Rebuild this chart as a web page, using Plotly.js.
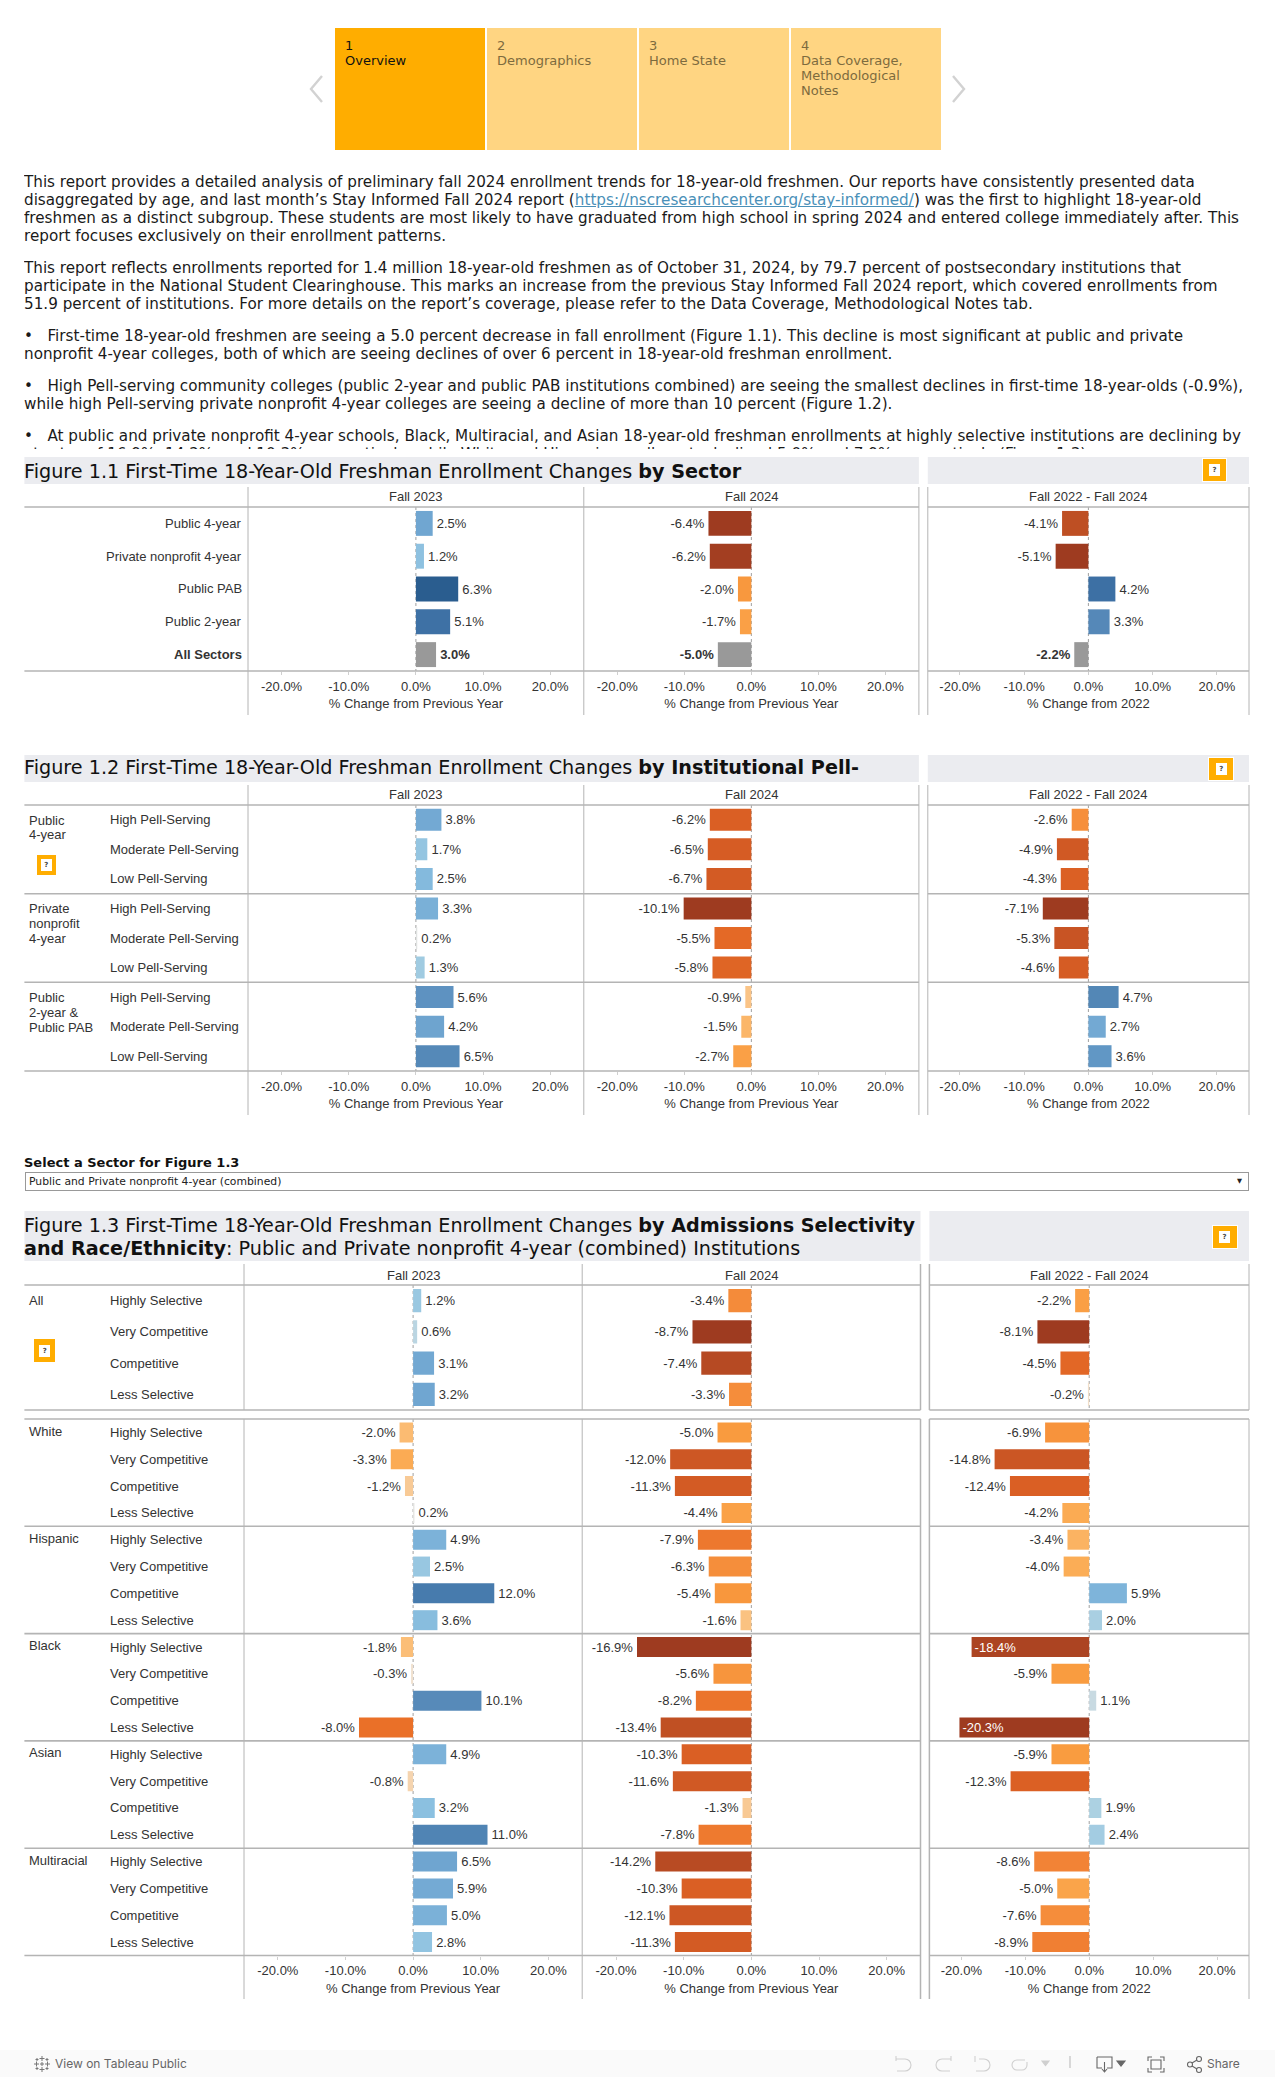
<!DOCTYPE html>
<html><head><meta charset="utf-8">
<script src="https://cdn.plot.ly/plotly-3.0.1.min.js"></script>
<style>
html,body{margin:0;padding:0;background:#fff;width:1275px;height:2077px;overflow:hidden}
#chart{position:absolute;left:0;top:0;width:1275px;height:2077px}
.abs{position:absolute}
.tile{position:absolute;top:28px;height:122px;width:150px;background:#ffd582;color:#7d6b3e;font:13px/15px "DejaVu Sans";padding:10px 0 0 10px;box-sizing:border-box}
.tile.on{background:#ffad00;color:#111}
#intro{position:absolute;left:24px;top:173px;width:1240px;height:276px;overflow:hidden;font:15.2px/18px "DejaVu Sans";color:#1a1a1a;white-space:nowrap}
#intro p{margin:0 0 14px 0}
#intro a{color:#4a90b8}
.help{position:absolute;background:#ffad00;border:1px solid #fff;box-sizing:border-box}
.help span{position:absolute;left:50%;top:50%;width:11px;height:12px;margin:-6px 0 0 -5.5px;background:#fff;color:#444;font:bold 7px/12px "DejaVu Sans";text-align:center}
#footer{position:absolute;left:0;top:2050px;width:1275px;height:27px;background:#fafafa;color:#666;font:12px/27px "Inter","Liberation Sans"}
</style></head><body>
<div id="chart"></div>
<div id="chrome"></div>
<script>
// ---------- data ----------
const columnHeads = ['Fall 2023','Fall 2024','Fall 2022 - Fall 2024'];
const axisTitles = ['% Change from Previous Year','% Change from Previous Year','% Change from 2022'];
const tickValues = [-20,-10,0,10,20];
const tickLabels = ['-20.0%','-10.0%','0.0%','10.0%','20.0%'];

const sectorLabels = ['Public 4-year','Private nonprofit 4-year','Public PAB','Public 2-year','All Sectors'];
const sectorFall2023 = [2.5,1.2,6.3,5.1,3.0];
const sectorFall2024 = [-6.4,-6.2,-2.0,-1.7,-5.0];
const sectorChange2022 = [-4.1,-5.1,4.2,3.3,-2.2];

const pellGroups = [['Public','4-year'],['Private','nonprofit','4-year'],['Public','2-year &','Public PAB']];
const pellLevels = ['High Pell-Serving','Moderate Pell-Serving','Low Pell-Serving'];
const pellFall2023 = [3.8,1.7,2.5, 3.3,0.2,1.3, 5.6,4.2,6.5];
const pellFall2024 = [-6.2,-6.5,-6.7, -10.1,-5.5,-5.8, -0.9,-1.5,-2.7];
const pellChange2022 = [-2.6,-4.9,-4.3, -7.1,-5.3,-4.6, 4.7,2.7,3.6];

const selectivity = ['Highly Selective','Very Competitive','Competitive','Less Selective'];
const allFall2023 = [1.2,0.6,3.1,3.2];
const allFall2024 = [-3.4,-8.7,-7.4,-3.3];
const allChange2022 = [-2.2,-8.1,-4.5,-0.2];
const raceGroups = ['White','Hispanic','Black','Asian','Multiracial'];
const raceFall2023 = [-2.0,-3.3,-1.2,0.2, 4.9,2.5,12.0,3.6, -1.8,-0.3,10.1,-8.0, 4.9,-0.8,3.2,11.0, 6.5,5.9,5.0,2.8];
const raceFall2024 = [-5.0,-12.0,-11.3,-4.4, -7.9,-6.3,-5.4,-1.6, -16.9,-5.6,-8.2,-13.4, -10.3,-11.6,-1.3,-7.8, -14.2,-10.3,-12.1,-11.3];
const raceChange2022 = [-6.9,-14.8,-12.4,-4.2, -3.4,-4.0,5.9,2.0, -18.4,-5.9,1.1,-20.3, -5.9,-12.3,1.9,2.4, -8.6,-5.0,-7.6,-8.9];

// ---------- helpers ----------
const W=1275,H=2077, FONT='"Liberation Sans"', FS=13, INK='#333';
const px=x=>x/W, py=y=>1-y/H;
const RULE='#b4b4b4';
const stops=[[-1,'#9e3b20'],[-.9,'#ad4522'],[-.73,'#cb5624'],[-.61,'#da5f24'],[-.5,'#ea7028'],[-.4,'#f4893a'],[-.3,'#f99a3e'],[-.2,'#fbac55'],[-.1,'#fbc07c'],[0,'#eee8e2'],
 [.1,'#a8cfe2'],[.2,'#8bc0e0'],[.3,'#7db3d9'],[.4,'#70a6d1'],[.5,'#6298c6'],[.6,'#5a8dbc'],[.7,'#4f83b3'],[.8,'#3f72a6'],[.9,'#35689c'],[1,'#2a5d8f']];
const colorscale=stops.map(s=>[(s[0]+1)/2,s[1]]);
const HAIR='\u200a';
const fmt=v=>{const s=v.toFixed(1)+'%'; if(v<-18) return s; return v<0?s+HAIR:HAIR+s;};

const traces=[], annotations=[], shapes=[], layout={};
let axisCount=0;

function panel(cfg){
  axisCount++;
  const k=axisCount===1?'':String(axisCount), xk='x'+k, yk='y'+k;
  const n=cfg.values.length, idx=cfg.values.map((_,i)=>i);
  layout['xaxis'+k]={domain:[px(cfg.x0),px(cfg.x1)],range:[-25,25],anchor:yk,fixedrange:true,zeroline:false,showgrid:false,showline:false,
    tickmode:'array',tickvals:cfg.axis?tickValues:[],ticktext:cfg.axis?tickLabels:[],ticks:cfg.axis?'outside':'',ticklen:3,tickcolor:'#cfcfcf',tickwidth:1,
    tickfont:{family:FONT,size:FS,color:INK},
    title:cfg.axis?{text:cfg.axis,standoff:6,font:{family:FONT,size:FS,color:INK}}:undefined};
  layout['yaxis'+k]={domain:[py(cfg.y1),py(cfg.y0)],range:[n-.5,-.5],anchor:xk,visible:false,fixedrange:true};
  shapes.push({type:'line',layer:'below',xref:xk,yref:'paper',x0:0,x1:0,y0:py(cfg.y0),y1:py(cfg.y1),line:{color:'#a0a0a0',width:1,dash:'dot'}});
  const gray=cfg.gray||[];
  const colored=idx.filter(i=>!gray.includes(i));
  const common=(list)=>({type:'bar',orientation:'h',xaxis:xk,yaxis:yk,width:cfg.bw,cliponaxis:false,constraintext:'none',textangle:0,
    x:list.map(i=>cfg.values[i]),y:list,text:list.map(i=>fmt(cfg.values[i])),hoverinfo:'skip',
    textposition:list.map(i=>cfg.values[i]<-18?'inside':'outside'),insidetextanchor:'end',
    textfont:{family:FONT,size:FS,color:list.map(i=>cfg.values[i]<-18?'#fff':INK)}});
  traces.push(Object.assign(common(colored),{marker:{color:colored.map(i=>cfg.values[i]),colorscale,cmin:-cfg.M,cmax:cfg.M,showscale:false,line:{width:0}}}));
  if(gray.length){
    const t=common(gray); t.marker={color:'#999999',line:{width:0}}; t.textfont.weight='bold';
    traces.push(t);
  }
}
function vline(x,y0,y1,w){shapes.push({type:'line',xref:'paper',yref:'paper',x0:px(x),x1:px(x),y0:py(y0),y1:py(y1),line:{color:RULE,width:w||1}});}
function hline(x0,x1,y,w){shapes.push({type:'line',xref:'paper',yref:'paper',x0:px(x0),x1:px(x1),y0:py(y),y1:py(y),line:{color:RULE,width:w||1.6}});}
function band(x0,x1,y0,y1){shapes.push({type:'rect',layer:'below',xref:'paper',yref:'paper',x0:px(x0),x1:px(x1),y0:py(y0),y1:py(y1),fillcolor:'#ebecf0',line:{width:0}});}
function label(text,x,y,anchor,opt){annotations.push(Object.assign({text,xref:'paper',yref:'paper',x:px(x),y:py(y),xanchor:anchor||'left',yanchor:'middle',showarrow:false,
  align:anchor==='right'?'right':'left',font:{family:FONT,size:FS,color:INK},borderpad:0,borderwidth:0},opt||{}));}
function title(text,y){label(text,24,y+.7,'left',{font:{family:'"DejaVu Sans"',size:19.2,color:'#111'}});}

const LEFT=24.4, GROUPX=29, ROWX=110;
// Figure 1.1
{
  band(LEFT,918.9,457,484); band(927.8,1249,457,484);
  title('Figure 1.1 First-Time 18-Year-Old Freshman Enrollment Changes <b>by Sector</b>',471);
  const cols=[[248,583.8],[583.8,918.9],[927.8,1249]], vals=[sectorFall2023,sectorFall2024,sectorChange2022], Ms=[6.3,6.4,5.1];
  cols.forEach((c,i)=>{panel({x0:c[0],x1:c[1],y0:507,y1:671,values:vals[i],M:Ms[i],bw:.76,axis:axisTitles[i],gray:[4]});
    label(columnHeads[i],(c[0]+c[1])/2,497,'center');});
  [248,583.8,918.9,927.8,1249].forEach(x=>vline(x,487,715));
  hline(LEFT,918.9,507);hline(927.8,1249,507);hline(LEFT,918.9,671);hline(927.8,1249,671);
  sectorLabels.forEach((s,i)=>label(i===4?'<b>'+s+'</b>':s,242,507+(i+.5)*164/5,'right'));
}
// Figure 1.2
{
  band(LEFT,918.9,755,782); band(927.8,1249,755,782);
  title('Figure 1.2 First-Time 18-Year-Old Freshman Enrollment Changes <b>by Institutional Pell-</b>',767);
  const cols=[[248,583.8],[583.8,918.9],[927.8,1249]], vals=[pellFall2023,pellFall2024,pellChange2022], Ms=[10.1,10.1,7.1];
  cols.forEach((c,i)=>{panel({x0:c[0],x1:c[1],y0:805,y1:1071,values:vals[i],M:Ms[i],bw:.745,axis:axisTitles[i]});
    label(columnHeads[i],(c[0]+c[1])/2,795,'center');});
  [248,583.8,918.9,927.8,1249].forEach(x=>vline(x,785,1115));
  [805,893.7,982.3,1071].forEach(y=>{hline(LEFT,918.9,y);hline(927.8,1249,y);});
  pellGroups.forEach((g,gi)=>{
    g.forEach((line,li)=>label(line,GROUPX,805+gi*88.67+15+li*15));
    pellLevels.forEach((l,j)=>label(l,ROWX,805+(gi*3+j+.5)*266/9));
  });
}
// Figure 1.3
{
  band(LEFT,920.5,1211,1261); band(929.4,1249,1211,1261);
  title('Figure 1.3 First-Time 18-Year-Old Freshman Enrollment Changes <b>by Admissions Selectivity</b>',1225);
  title('<b>and Race/Ethnicity</b>: Public and Private nonprofit 4-year (combined) Institutions',1248);
  const cols=[[244,582.2],[582.2,920.5],[929.4,1249]];
  const allVals=[allFall2023,allFall2024,allChange2022], raceVals=[raceFall2023,raceFall2024,raceChange2022];
  const allM=[8,8.7,8.1], raceM=[16,16.9,20.3];
  cols.forEach((c,i)=>{
    panel({x0:c[0],x1:c[1],y0:1285,y1:1410,values:allVals[i],M:allM[i],bw:.74});
    panel({x0:c[0],x1:c[1],y0:1419,y1:1955.5,values:raceVals[i],M:raceM[i],bw:.745,axis:axisTitles[i]});
    label(columnHeads[i],(c[0]+c[1])/2,1275,'center');
  });
  [244,582.2,1249].forEach(x=>{vline(x,1264,1410);vline(x,1419,1999);});
  [920.5,929.4].forEach(x=>{vline(x,1264,1410,1.5);vline(x,1419,1999,1.5);});
  [1285,1410,1419,1955.5].forEach(y=>{hline(LEFT,920.5,y);hline(929.4,1249,y);});
  raceGroups.forEach((g,gi)=>{
    const top=1419+gi*107.3;
    if(gi){hline(LEFT,920.5,top);hline(929.4,1249,top);}
    label(g,GROUPX,top+12);
    selectivity.forEach((s,j)=>label(s,ROWX,top+(j+.5)*107.3/4));
  });
  label('All',GROUPX,1300);
  selectivity.forEach((s,j)=>label(s,ROWX,1285+(j+.5)*125/4));
}

Object.assign(layout,{width:W,height:H,margin:{l:0,r:0,t:0,b:0},showlegend:false,barmode:'overlay',paper_bgcolor:'rgba(0,0,0,0)',plot_bgcolor:'rgba(0,0,0,0)',
  annotations,shapes,font:{family:FONT,size:FS,color:INK},hovermode:false});
Plotly.newPlot('chart',traces,layout,{displayModeBar:false,staticPlot:true});

// ---------- page chrome ----------
const navItems=['1<br>Overview','2<br>Demographics','3<br>Home State','4<br>Data Coverage,<br>Methodological<br>Notes'];
const navLefts=[335,487,639,791];
const intro=[
 ['This report provides a detailed analysis of preliminary fall 2024 enrollment trends for 18-year-old freshmen. Our reports have consistently presented data',
  'disaggregated by age, and last month\u2019s Stay Informed Fall 2024 report (<a href="#">https://nscresearchcenter.org/stay-informed/</a>) was the first to highlight 18-year-old',
  'freshmen as a distinct subgroup. These students are most likely to have graduated from high school in spring 2024 and entered college immediately after. This',
  'report focuses exclusively on their enrollment patterns.'],
 ['This report reflects enrollments reported for 1.4 million 18-year-old freshmen as of October 31, 2024, by 79.7 percent of postsecondary institutions that',
  'participate in the National Student Clearinghouse. This marks an increase from the previous Stay Informed Fall 2024 report, which covered enrollments from',
  '51.9 percent of institutions. For more details on the report\u2019s coverage, please refer to the Data Coverage, Methodological Notes tab.'],
 ['\u2022&nbsp;&nbsp; First-time 18-year-old freshmen are seeing a 5.0 percent decrease in fall enrollment (Figure 1.1). This decline is most significant at public and private',
  'nonprofit 4-year colleges, both of which are seeing declines of over 6 percent in 18-year-old freshman enrollment.'],
 ['\u2022&nbsp;&nbsp; High Pell-serving community colleges (public 2-year and public PAB institutions combined) are seeing the smallest declines in first-time 18-year-olds (-0.9%),',
  'while high Pell-serving private nonprofit 4-year colleges are seeing a decline of more than 10 percent (Figure 1.2).'],
 ['\u2022&nbsp;&nbsp; At public and private nonprofit 4-year schools, Black, Multiracial, and Asian 18-year-old freshman enrollments at highly selective institutions are declining by',
  'at rates of 16.9%, 14.2%, and 10.3%, respectively, while White and Hispanic enrollments declined 5.0% and 7.9%, respectively (Figure 1.3).']
];
const helpIcons=[[1201.8,458,25.5,24],[1208.3,757,26,24],[35.8,854,21,22],[1211.6,1225,26,24],[33.3,1338,23,25]];
let html='';
navItems.forEach((t,i)=>{html+=`<div class="tile${i?'':' on'}" style="left:${navLefts[i]}px">${t}</div>`;});
html+=`<svg class="abs" style="left:300px;top:70px" width="680" height="40" fill="none" stroke="#d2d2d2" stroke-width="2.4"><path d="M22 6 L11 19 L22 32"/><path d="M653 6 L664 19 L653 32"/></svg>`;
html+='<div id="intro">'+intro.map(p=>'<p>'+p.join('<br>')+'</p>').join('')+'</div>';
helpIcons.forEach(h=>{html+=`<div class="help" style="left:${h[0]}px;top:${h[1]}px;width:${h[2]}px;height:${h[3]}px"><span>?</span></div>`;});
html+=`<div class="abs" style="left:24px;top:1155px;font:bold 13px/16px 'DejaVu Sans';color:#111">Select a Sector for Figure 1.3</div>`;
html+=`<div class="abs" style="left:25px;top:1172px;width:1224px;height:19px;box-sizing:border-box;border:1px solid #999;font:10.8px/17px 'DejaVu Sans';color:#222;padding-left:3px;white-space:nowrap">Public and Private nonprofit 4-year (combined)<span style="position:absolute;right:6px;top:0;font-size:6.5px">\u25BC</span></div>`;
html+=`<div id="footer"><svg class="abs" style="left:33px;top:5px" width="18" height="18" stroke="#777" stroke-width="1" fill="none"><path d="M9 1v5M6.5 3.5h5M9 12v5M6.5 14.5h5M1 9h5M3.5 6.5v5M12 9h5M14.5 6.5v5M4 3v3M2.5 4.5h3M14 3v3M12.5 4.500h3M4 12v3M2.500 13.500h3M14 12v3M12.500 13.500h3M9 7v4M7 9h4"/></svg>
<span class="abs" style="left:55px;top:0">View on Tableau Public</span>
<svg class="abs" style="left:890px;top:0" width="320" height="27" fill="none" stroke="#cfcfcf" stroke-width="1.1">
<path d="M6 9h9a6 6 0 0 1 0 12h-8M6 6v5"/><path d="M61 9h-9a6 6 0 0 0 0 12h8M61 6v5"/><path d="M85 6v6M89 9h5a6 6 0 0 1 0 12h-8"/><path d="M135 10h-8a5 5 0 0 0 0 10h5a5 5 0 0 0 5-5v-3"/>
<path d="M152 11h7l-3.500 4.500z" fill="#cfcfcf"/><path d="M180 6v12" stroke="#bbb"/>
<path d="M207 7h15v11h-5M212 18h-5V7M214.500 12v9M212 19l2.500 3 2.500-3" stroke="#666"/><path d="M227 11h8l-4 5z" fill="#666" stroke="#666"/>
<path d="M262 7h-4v4M270 7h4v4M262 22h-4v-4M270 22h4v-4M261 10h10v9h-10z" stroke="#666"/>
<circle cx="300" cy="14.500" r="2.500" stroke="#666"/><circle cx="309" cy="9" r="2.500" stroke="#666"/><circle cx="309" cy="20" r="2.500" stroke="#666"/><path d="M302 13l5-3M302 16l5 3" stroke="#666"/></svg>
<span class="abs" style="left:1207px;top:0">Share</span></div>`;
document.getElementById('chrome').innerHTML=html;
</script>
</body></html>
